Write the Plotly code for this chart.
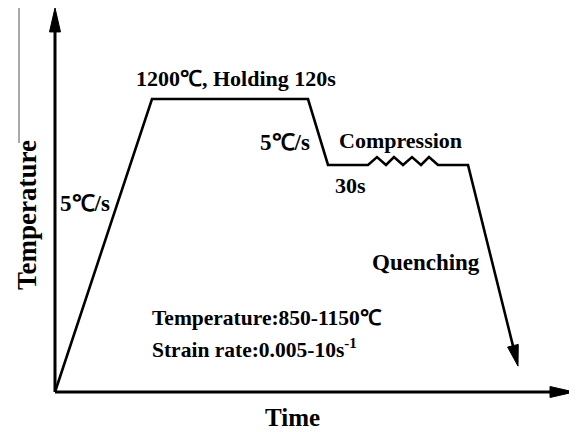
import math
import plotly.graph_objects as go

# ---------------- data (schematic units) ----------------
# time in schematic units, temperature in degC
heat_time = [0, 97]
heat_temp = [0, 1200]
hold_time = [97, 253]
hold_temp = [1200, 1200]
cool_time = [253, 273, 313]
cool_temp = [1200, 930, 930]
comp_time = [313, 322, 331, 339, 348, 357, 366, 374, 383]
comp_temp = [930, 962, 930, 962, 930, 962, 930, 962, 930]
post_time = [383, 413]
post_temp = [930, 930]
quench_time = [413, 463]
quench_temp = [930, 106]
axis_time_max = 519
axis_temp_max = 1573

labels = {
    "hold": "1200℃, Holding 120s",
    "heat": "5℃/s",
    "cool": "5℃/s",
    "comp": "Compression",
    "wait": "30s",
    "quench": "Quenching",
    "cond1": "Temperature:850-1150℃",
    "cond2": "Strain rate:0.005-10s<sup>-1</sup>",
    "xtitle": "Time",
    "ytitle": "Temperature",
}

# ---------------- geometry helpers ----------------
PAGE = 8                  # default page body margin
W, H = 577 - PAGE, 432 - PAGE
OX, OY = 55 - PAGE, 392 - PAGE   # pixel position of origin inside the figure
K = 1200 / 293            # degC per pixel

def to_px(t, T):
    return OX + t, OY - T / K

def to_data(px, py):
    return px - OX, (OY - py) * K

def arrow(tail, tip, length=21, half=5.5):
    tx, ty = to_px(*tail)
    hx, hy = to_px(*tip)
    dx, dy = hx - tx, hy - ty
    n = math.hypot(dx, dy)
    ux, uy = dx / n, dy / n
    bx, by = hx - ux * length, hy - uy * length
    lx, ly = bx - uy * half, by + ux * half
    rx, ry = bx + uy * half, by - ux * half
    pts = [to_data(hx, hy), to_data(lx, ly), to_data(rx, ry)]
    path = "M {} {} L {} {} L {} {} Z".format(*[v for p in pts for v in p])
    base = to_data(bx + ux * 3, by + uy * 3)
    return path, base

FONT = "Liberation Serif, Times New Roman, serif"

fig = go.Figure()

q_path, q_base = arrow((quench_time[0], quench_temp[0]), (quench_time[1], quench_temp[1]))

xs = heat_time + hold_time[1:] + cool_time[1:] + comp_time[1:] + post_time[1:] + [q_base[0]]
ys = heat_temp + hold_temp[1:] + cool_temp[1:] + comp_temp[1:] + post_temp[1:] + [q_base[1]]

fig.add_trace(go.Scatter(x=xs, y=ys, mode="lines",
                         line=dict(color="black", width=2.6),
                         hoverinfo="skip", showlegend=False))

shapes = []
y_path, y_base = arrow((0, 0), (0, axis_temp_max), length=24, half=5.5)
x_path, x_base = arrow((0, 0), (axis_time_max, 0), length=24, half=5.5)
shapes.append(dict(type="line", x0=0, y0=0, x1=0, y1=y_base[1],
                   line=dict(color="black", width=3)))
shapes.append(dict(type="line", x0=0, y0=0, x1=x_base[0], y1=0,
                   line=dict(color="black", width=3)))
for p in (y_path, x_path, q_path):
    shapes.append(dict(type="path", path=p, fillcolor="black",
                       line=dict(color="black", width=1)))

def P(px, py):
    """reference-page pixel -> paper fraction"""
    return (px - PAGE) / W, 1 - (py - PAGE) / H

sx0, sy0 = P(19, 8)
sx1, sy1 = P(19, 143)
shapes.append(dict(type="line", xref="paper", yref="paper",
                   x0=sx0, x1=sx1, y0=sy0, y1=sy1,
                   line=dict(color="#555555", width=1)))

def ann(key, px, py, size=21, xanchor="center", angle=0):
    x, y = P(px, py)
    return dict(text=labels[key], x=x, y=y, xref="paper", yref="paper",
                showarrow=False, xanchor=xanchor, yanchor="middle", textangle=angle,
                font=dict(family=FONT, size=size, color="black", weight="bold"))

annotations = [
    ann("hold", 236, 78, size=22),
    ann("heat", 85, 203, size=23),
    ann("cool", 285, 142, size=23),
    ann("comp", 400, 140, size=22),
    ann("wait", 350, 185, size=22),
    ann("quench", 426, 262, size=23),
    ann("cond1", 150, 318, size=21.5, xanchor="left"),
    ann("cond2", 150, 348, size=21.5, xanchor="left"),
    ann("xtitle", 292, 417, size=25),
    ann("ytitle", 27, 215, size=27, angle=-90),
]

x0, _ = to_data(0, 0)
x1, _ = to_data(W, 0)
_, y0 = to_data(0, H)
_, y1 = to_data(0, 0)

fig.update_layout(
    width=W, height=H,
    margin=dict(l=0, r=0, t=0, b=0),
    paper_bgcolor="white", plot_bgcolor="white",
    xaxis=dict(range=[x0, x1], visible=False, fixedrange=True),
    yaxis=dict(range=[y0, y1], visible=False, fixedrange=True),
    shapes=shapes, annotations=annotations,
    showlegend=False,
)

fig.write_html("out.html")
